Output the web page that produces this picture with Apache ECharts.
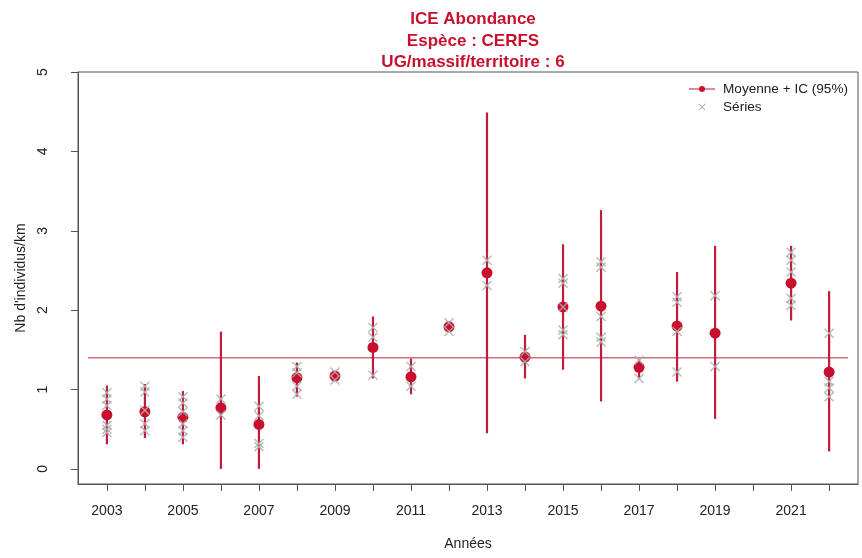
<!DOCTYPE html>
<html>
<head>
<meta charset="utf-8">
<script src="https://cdn.jsdelivr.net/npm/echarts@6/dist/echarts.min.js"></script>
<style>html,body{margin:0;padding:0;background:#fff}#c{width:862px;height:558px}</style>
</head>
<body>
<div id="c"></div>
<script>
const years   = [2003,2004,2005,2006,2007,2008,2009,2010,2011,2012,2013,2014,2015,2016,2017,2018,2019,2021,2022];
const means   = [0.68,0.72,0.65,0.77,0.56,1.15,1.17,1.53,1.16,1.79,2.47,1.41,2.04,2.05,1.28,1.80,1.71,2.34,1.22];
const ciLow   = [0.31,0.39,0.31,0.00,0.00,0.91,1.12,1.14,0.94,1.74,0.45,1.14,1.25,0.85,1.14,1.10,0.63,1.87,0.22];
const ciHigh  = [1.05,1.07,0.98,1.73,1.17,1.34,1.22,1.92,1.39,1.84,4.49,1.69,2.83,3.26,1.38,2.48,2.81,2.81,2.24];
const seriesValues = [
  [0.96,0.88,0.80,0.55,0.50,0.46],
  [1.04,0.97,0.74,0.57,0.48],
  [0.91,0.83,0.72,0.57,0.48,0.40],
  [0.88,0.68],
  [0.79,0.67,0.32,0.28],
  [1.29,1.21,1.04,0.94],
  [1.22,1.12],
  [1.78,1.66,1.18],
  [1.29,1.04],
  [1.84,1.73],
  [2.63,2.31],
  [1.48,1.35],
  [2.40,2.34,2.04,1.75,1.69],
  [2.61,2.54,1.92,1.66,1.60],
  [1.37,1.14],
  [2.17,2.10,1.73,1.22],
  [2.18,1.29],
  [2.73,2.63,2.48,2.15,2.06],
  [1.71,1.10,1.02,0.91]
];
const overallMean = 1.40;
const meanLineSpan = [2002.5, 2022.5];
const xTickValues = [2003,2004,2005,2006,2007,2008,2009,2010,2011,2012,2013,2014,2015,2016,2017,2018,2019,2020,2021,2022];
const xLabelValues = [2003,2005,2007,2009,2011,2013,2015,2017,2019,2021];
const yTickValues = [0,1,2,3,4,5];

const RED = '#c8102e';
const CI_RED = '#c01c3c';
const GREY = '#adadad';

const ciData = years.map((y,i)=>[y, ciLow[i], ciHigh[i]]);
const meanData = years.map((y,i)=>[y, means[i]]);
const crossData = [];
years.forEach((y,i)=>seriesValues[i].forEach(v=>crossData.push([y,v])));

const iconMean = 'path://M0,0h0.01v0.01h-0.01Z M25.99,13.99h0.01v0.01h-0.01Z M0,6.4H26V7.6H0Z M16,7A3,3,0,1,1,10,7A3,3,0,1,1,16,7Z';
const iconCross = 'path://M0,0h0.01v0.01h-0.01Z M25.99,13.99h0.01v0.01h-0.01Z M9.5,4.2L10.2,3.5L16.5,9.8L15.8,10.5Z M15.8,3.5L16.5,4.2L10.2,10.5L9.5,9.8Z';

const chart = echarts.init(document.getElementById('c'), null, {renderer:'canvas'});
const FONT = 'Liberation Sans, Arial, sans-serif';
chart.setOption({
  animation: false,
  textStyle: {fontFamily: FONT},
  title: {
    text: 'ICE Abondance\nEspèce : CERFS\nUG/massif/territoire : 6',
    left: 468, top: 4, textAlign: 'center',
    textStyle: {color: RED, fontSize: 17, fontWeight: 'bold', lineHeight: 21.5, fontFamily: FONT}
  },
  legend: {
    orient: 'vertical', left: 684, top: 77, itemWidth: 26, itemHeight: 14, itemGap: 4,
    textStyle: {fontSize: 13.6, color: '#222', fontFamily: FONT, padding: [0,0,0,3]},
    data: [{name: 'Moyenne + IC (95%)', icon: iconMean}, {name: 'Séries', icon: iconCross}]
  },
  grid: {left: 78, right: 4, top: 72, bottom: 74, show: true, borderColor: '#555', borderWidth: 1},
  xAxis: {
    type: 'value', min: 2002.24, max: 2022.76,
    name: 'Années', nameLocation: 'middle', nameGap: 53,
    nameTextStyle: {fontSize: 14, color: '#222', fontFamily: FONT},
    splitLine: {show: false},
    axisLine: {show: true, onZero: false, lineStyle: {color: '#555'}},
    axisTick: {show: true, customValues: xTickValues, length: 7, lineStyle: {color: '#555'}},
    axisLabel: {customValues: xLabelValues, formatter: v => String(Math.round(v)), fontSize: 14, color: '#222', margin: 20, fontFamily: FONT}
  },
  yAxis: {
    type: 'value', min: -0.19, max: 5,
    name: "Nb d'individus/km", nameLocation: 'middle', nameGap: 48, nameRotate: 90,
    nameTextStyle: {fontSize: 14, color: '#222', fontFamily: FONT},
    splitLine: {show: false},
    axisLine: {show: true, lineStyle: {color: '#555'}},
    axisTick: {show: true, customValues: yTickValues, length: 7, lineStyle: {color: '#555'}},
    axisLabel: {customValues: yTickValues, rotate: 90, fontSize: 14, color: '#222', margin: 28, fontFamily: FONT}
  },
  series: [
    {
      name: 'moyenne générale', type: 'line', z: 1, symbol: 'none', silent: true,
      data: [[meanLineSpan[0], overallMean], [meanLineSpan[1], overallMean]],
      lineStyle: {color: '#d36c7a', width: 1.4}
    },
    {
      name: 'IC', type: 'custom', z: 2, data: ciData,
      encode: {x: 0, y: [1, 2]},
      renderItem: (params, api) => {
        const a = api.coord([api.value(0), api.value(1)]);
        const b = api.coord([api.value(0), api.value(2)]);
        return {type: 'line', shape: {x1: a[0], y1: a[1], x2: b[0], y2: b[1]},
                style: {stroke: CI_RED, lineWidth: 2.2}};
      }
    },
    {
      name: 'Moyenne + IC (95%)', type: 'scatter', z: 3, data: meanData,
      symbol: 'circle', symbolSize: 11, itemStyle: {color: RED, opacity: 1}
    },
    {
      name: 'Séries', type: 'custom', z: 4, data: crossData,
      encode: {x: 0, y: 1},
      itemStyle: {color: GREY},
      renderItem: (params, api) => {
        const p = api.coord([api.value(0), api.value(1)]);
        const s = 4.5;
        const st = {stroke: GREY, lineWidth: 1.4, opacity: 0.85};
        return {type: 'group', children: [
          {type: 'line', shape: {x1: p[0]-s, y1: p[1]-s, x2: p[0]+s, y2: p[1]+s}, style: st},
          {type: 'line', shape: {x1: p[0]-s, y1: p[1]+s, x2: p[0]+s, y2: p[1]-s}, style: st}
        ]};
      }
    }
  ]
});
</script>
</body>
</html>
